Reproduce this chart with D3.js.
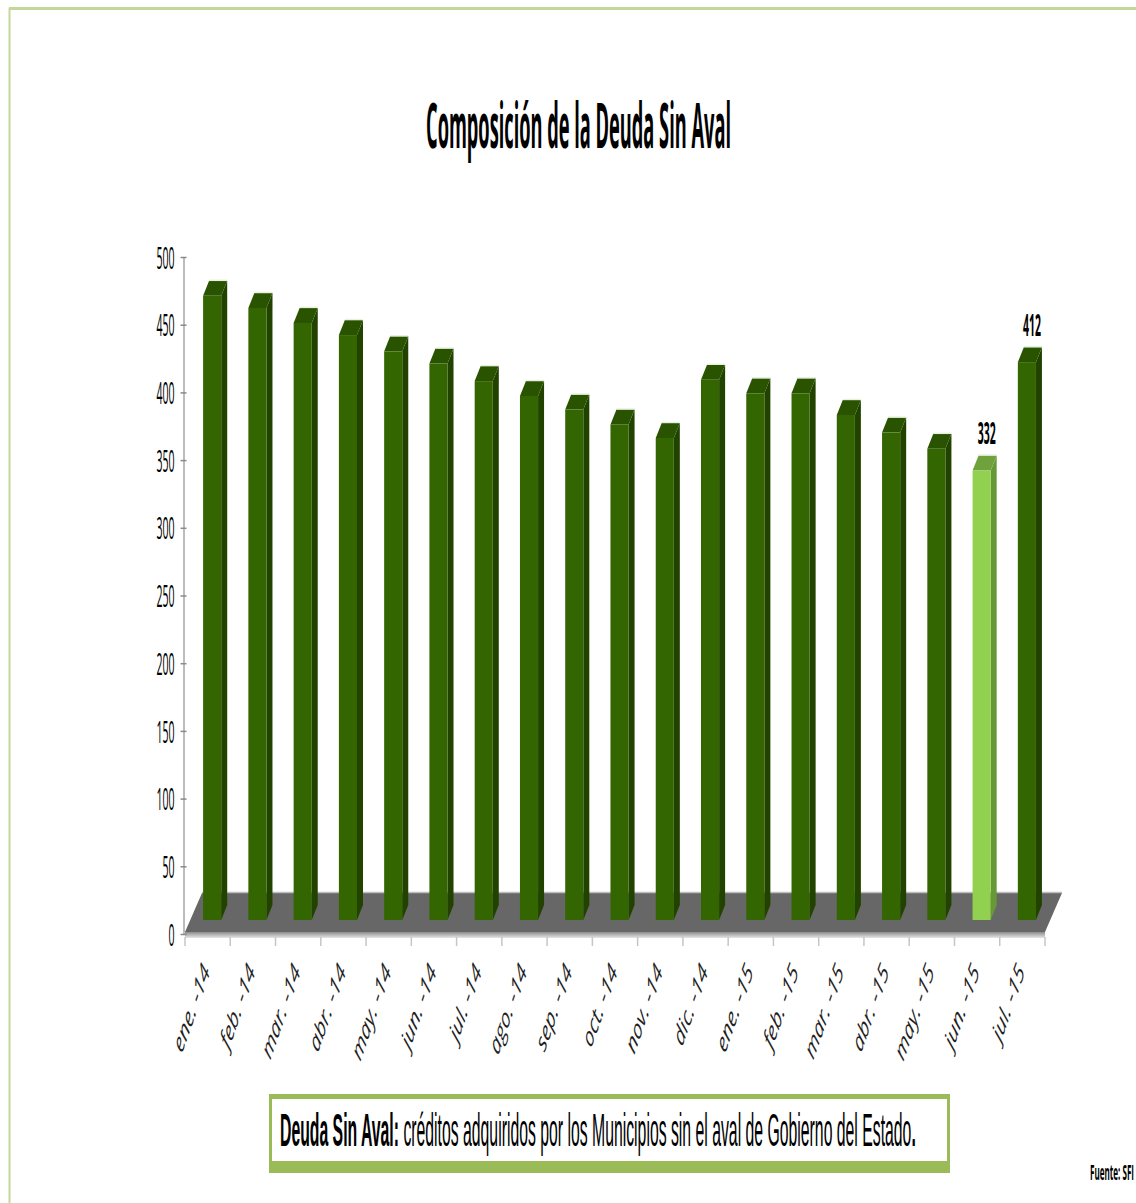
<!DOCTYPE html>
<html>
<head>
<meta charset="utf-8">
<script src="https://cdn.jsdelivr.net/npm/d3@7"></script>
<style>
  html, body { margin: 0; padding: 0; background: #ffffff; }
  svg { display: block; }
</style>
</head>
<body>
<svg id="chart" width="1136" height="1203"></svg>
<script>
// Monthly balance of municipal debt without state guarantee (millions)
const categories = ["ene. -14", "feb. -14", "mar. -14", "abr. -14", "may. -14", "jun. -14",
  "jul. -14", "ago. -14", "sep. -14", "oct. -14", "nov. -14", "dic. -14",
  "ene. -15", "feb. -15", "mar. -15", "abr. -15", "may. -15", "jun. -15", "jul. -15"];
const values = [461, 452, 441, 432, 420, 411, 398, 387, 377, 366, 356, 399,
  389, 389, 373, 360, 348, 332, 412];
const labelledCategories = ["jun. -15", "jul. -15"];
const highlightCategory = "jun. -15";
const yTicks = [0, 50, 100, 150, 200, 250, 300, 350, 400, 450, 500];

const titleText = "Composición de la Deuda Sin Aval";
const noteBold = "Deuda Sin Aval:";
const noteText = " créditos adquiridos por los Municipios sin el aval de Gobierno del Estado";
const sourceText = "Fuente: SFI";

const svg = d3.select("#chart");

// squeeze a text element horizontally to a target width, anchored at (x, y)
function fitText(sel, x, y, width) {
  const natural = sel.node().getComputedTextLength();
  sel.attr("x", 0).attr("y", 0)
     .attr("transform", `translate(${x},${y}) scale(${width / natural},1)`);
  return sel;
}

// page frame
svg.append("line").attr("x1", 9).attr("x2", 1136).attr("y1", 8.5).attr("y2", 8.5)
  .attr("stroke", "#c4d79b").attr("stroke-width", 3);
svg.append("line").attr("x1", 9.5).attr("x2", 9.5).attr("y1", 8).attr("y2", 1203)
  .attr("stroke", "#c4d79b").attr("stroke-width", 2);

// title
fitText(svg.append("text")
  .attr("text-anchor", "middle")
  .attr("font-family", "'Open Sans', sans-serif")
  .attr("font-weight", 700)
  .attr("font-size", 62)
  .attr("fill", "#000")
  .text(titleText), 578.5, 148, 305);

// scales
const x = d3.scaleBand().domain(categories).range([185, 1045]).padding(0);
const yAxisScale = d3.scaleLinear().domain([0, 500]).range([934, 257]);
const yBar = d3.scaleLinear().domain([0, 500]).range([920, 243]);

// 3D geometry
const floorDX = 17, floorDY = -39;
const barDX = 6, barDY = -15;

const defs = svg.append("defs");
const edgeGrad = defs.append("linearGradient").attr("id", "floorEdge")
  .attr("x1", 0).attr("y1", 0).attr("x2", 0).attr("y2", 1);
edgeGrad.append("stop").attr("offset", "0%").attr("stop-color", "#8c8c8c");
edgeGrad.append("stop").attr("offset", "100%").attr("stop-color", "#e6e6e6");

// floor
const [fx0, fx1] = x.range();
const fy = yAxisScale(0) - 2;
svg.append("rect")
  .attr("x", fx0).attr("y", fy).attr("width", fx1 - fx0).attr("height", 6)
  .attr("fill", "url(#floorEdge)");
svg.append("polygon")
  .attr("points", [[fx0, fy], [fx0 + floorDX, fy + floorDY], [fx1 + floorDX, fy + floorDY], [fx1, fy]].join(" "))
  .attr("fill", "#676767");
svg.append("line")
  .attr("x1", fx0 + floorDX).attr("x2", fx1 + floorDX)
  .attr("y1", fy + floorDY - 0.5).attr("y2", fy + floorDY - 0.5)
  .attr("stroke", "#bdbdbd").attr("stroke-width", 1.5);

// category ticks below the floor
const boundaries = categories.map(c => x(c)).concat([fx1]);
svg.append("g").selectAll("line").data(boundaries).join("line")
  .attr("x1", d => d).attr("x2", d => d)
  .attr("y1", yAxisScale(0) + 3).attr("y2", yAxisScale(0) + 12)
  .attr("stroke", "#c6c6c6").attr("stroke-width", 1.5);

// value axis
const yAxis = svg.append("g")
  .attr("transform", "translate(183.5,0)")
  .call(d3.axisLeft(yAxisScale).tickValues(yTicks).tickSize(3).tickSizeOuter(0));
yAxis.select(".domain").attr("stroke", "#a6a6a6").attr("stroke-width", 1.5);
yAxis.selectAll(".tick line").attr("stroke", "#8a8a8a").attr("stroke-width", 1.5)
  .attr("x1", 3);
yAxis.selectAll(".tick text")
  .attr("font-family", "'Open Sans', sans-serif")
  .attr("font-size", 31)
  .attr("fill", "#000")
  .attr("x", 0)
  .attr("dy", "0.36em")
  .attr("transform", "translate(-9,0) scale(0.34,1)");

// bars
const bw = x.bandwidth() * 0.4;
const bars = svg.append("g").selectAll("g").data(categories.map((c, i) => ({ c, v: values[i] })))
  .join("g");
const pal = d => d.c === highlightCategory
  ? { front: "#92d050", top: "#6fa23d", side: "#679a36" }
  : { front: "#336600", top: "#2a5300", side: "#224300" };

bars.each(function (d) {
  const g = d3.select(this);
  const x0 = x(d.c) + x.bandwidth() * 0.4;
  const yt = yBar(d.v), yb = yBar(0);
  const p = pal(d);
  g.append("polygon")
    .attr("points", [[x0 + bw, yt], [x0 + bw + barDX, yt + barDY], [x0 + bw + barDX, yb + barDY], [x0 + bw, yb]].join(" "))
    .attr("fill", p.side);
  g.append("polygon")
    .attr("points", [[x0, yt], [x0 + barDX, yt + barDY], [x0 + bw + barDX, yt + barDY], [x0 + bw, yt]].join(" "))
    .attr("fill", p.top);
  g.append("line")
    .attr("x1", x0 + barDX).attr("x2", x0 + bw + barDX)
    .attr("y1", yt + barDY - 0.5).attr("y2", yt + barDY - 0.5)
    .attr("stroke", "#e9f0e0").attr("stroke-width", 1.5);
  g.append("rect")
    .attr("x", x0).attr("y", yt).attr("width", bw).attr("height", yb - yt)
    .attr("fill", p.front);
});

// data labels
categories.forEach((c, i) => {
  if (!labelledCategories.includes(c)) return;
  const cx = x(c) + x.bandwidth() * 0.4 + bw / 2 + barDX / 2 + 2;
  fitText(svg.append("text")
    .attr("text-anchor", "middle")
    .attr("font-family", "'Open Sans', sans-serif")
    .attr("font-weight", 700)
    .attr("font-size", 31)
    .attr("fill", "#000")
    .text(String(values[i])), cx, yBar(values[i]) - 26, 18);
});

// category labels
svg.append("g").selectAll("text").data(categories).join("text")
  .attr("text-anchor", "end")
  .attr("font-family", "'Open Sans', sans-serif")
  .attr("font-style", "italic")
  .attr("font-size", 28)
  .attr("fill", "#1e1e1e")
  .attr("transform", d => `translate(${x(d) + x.bandwidth() / 2 + 3},972) scale(0.55,1) rotate(-57.6)`)
  .text(d => d);

// definition box
const box = { x: 269, y: 1094, w: 681, h: 79 };
svg.append("rect").attr("x", box.x).attr("y", box.y).attr("width", box.w).attr("height", box.h)
  .attr("fill", "#9bbb59");
svg.append("rect").attr("x", box.x + 3).attr("y", box.y + 5).attr("width", box.w - 6).attr("height", box.h - 17)
  .attr("fill", "#ffffff");
const note = svg.append("text")
  .attr("font-family", "'Liberation Sans', Arial, sans-serif")
  .attr("font-size", 47)
  .attr("fill", "#000");
note.append("tspan").attr("font-weight", 700).text(noteBold);
note.append("tspan").text(noteText);
note.append("tspan").attr("font-weight", 700).text(".");
fitText(note, 280, 1146, 636);

// source
fitText(svg.append("text")
  .attr("text-anchor", "end")
  .attr("font-family", "'Open Sans', sans-serif")
  .attr("font-weight", 700)
  .attr("font-size", 21)
  .attr("fill", "#000")
  .text(sourceText), 1134, 1180, 44);
</script>
</body>
</html>
